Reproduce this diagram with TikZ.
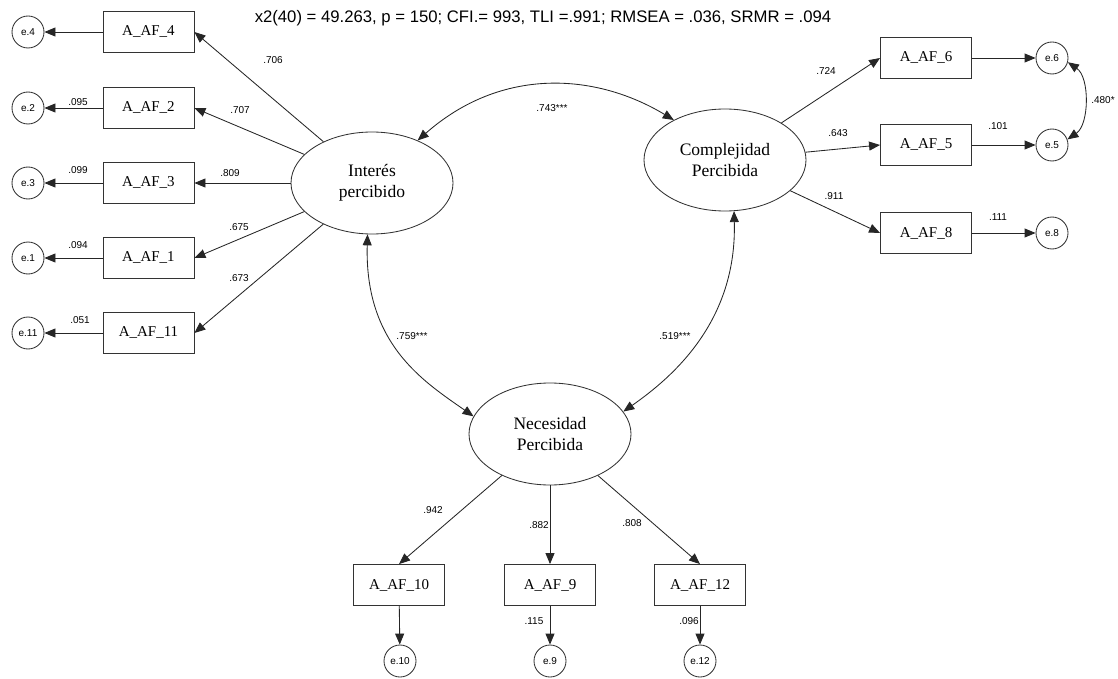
\documentclass[tikz,border=0pt]{standalone}
\usepackage{fontspec}
\setmainfont{Liberation Serif}
\newfontfamily\labfont{Liberation Sans}
\usetikzlibrary{shapes.geometric,arrows.meta}

\begin{document}
\begin{tikzpicture}[x=1pt,y=-1pt,
  tip/.tip={Triangle[length=11pt,width=9pt]},
  obs/.style={draw=black!80, line width=0.85pt, minimum width=91pt, minimum height=41pt,
    inner sep=0pt, font=\fontsize{15}{18}\selectfont},
  lat/.style={draw=black!80, line width=0.85pt, ellipse, inner sep=0pt, align=center,
    minimum width=162pt, minimum height=102pt, font=\fontsize{17.5}{21}\selectfont},
  err/.style={draw=black!80, line width=0.85pt, circle, minimum size=32pt, inner sep=0pt,
    font=\labfont\fontsize{10}{12}\selectfont},
  load/.style={-tip, line width=0.85pt, draw=black!85},
  covar/.style={tip-tip, line width=0.85pt, draw=black!85},
  num/.style={inner sep=0pt, font=\labfont\fontsize{10}{12}\selectfont}
]
\useasboundingbox (0,0) rectangle (1118,679);

% fit statistics
\node[inner sep=0pt, font=\labfont\fontsize{16.7}{19}\selectfont] (fit) at (543,18)
  {x2(40) = 49.263, p = 150; CFI.= 993, TLI =.991; RMSEA = .036, SRMR = .094};

% latent factors
\node[lat] (I) at (372,183) {Interés\\percibido};
\node[lat] (C) at (725,160) {Complejidad\\Percibida};
\node[lat] (N) at (550,434) {Necesidad\\Percibida};

% indicators of Interés percibido
\node[obs] (b4)  at (148.5,32)  {A\_AF\_4};
\node[obs] (b2)  at (148.5,108) {A\_AF\_2};
\node[obs] (b3)  at (148.5,183) {A\_AF\_3};
\node[obs] (b1)  at (148.5,258) {A\_AF\_1};
\node[obs] (b11) at (148.5,333) {A\_AF\_11};
\node[err] (e4)  at (28,32)  {e.4};
\node[err] (e2)  at (28,108) {e.2};
\node[err] (e3)  at (28,183) {e.3};
\node[err] (e1)  at (28,258) {e.1};
\node[err] (e11) at (28,333) {e.11};

% indicators of Complejidad Percibida
\node[obs] (b6) at (926,58)  {A\_AF\_6};
\node[obs] (b5) at (926,145) {A\_AF\_5};
\node[obs] (b8) at (926,233) {A\_AF\_8};
\node[err] (e6) at (1052,58)  {e.6};
\node[err] (e5) at (1052,145) {e.5};
\node[err] (e8) at (1052,233) {e.8};

% indicators of Necesidad Percibida
\node[obs] (b10) at (399,585) {A\_AF\_10};
\node[obs] (b9)  at (550,585) {A\_AF\_9};
\node[obs] (b12) at (700,585) {A\_AF\_12};
\node[err] (e10) at (400,661) {e.10};
\node[err] (e9)  at (550,661) {e.9};
\node[err] (e12) at (700,661) {e.12};

% loadings
\draw[load] (I) -- (b4.east);
\draw[load] (I) -- (b2.east);
\draw[load] (I) -- (b3.east);
\draw[load] (I) -- (b1.east);
\draw[load] (I) -- (b11.east);
\draw[load] (C) -- (b6.west);
\draw[load] (C) -- (b5.west);
\draw[load] (C) -- (b8.west);
\draw[load] (N) -- (b10.north);
\draw[load] (N) -- (b9.north);
\draw[load] (N) -- (b12.north);

% residual paths
\draw[load] (b4) -- (e4);
\draw[load] (b2) -- (e2);
\draw[load] (b3) -- (e3);
\draw[load] (b1) -- (e1);
\draw[load] (b11) -- (e11);
\draw[load] (b6) -- (e6);
\draw[load] (b5) -- (e5);
\draw[load] (b8) -- (e8);
\draw[load] (b10) -- (e10);
\draw[load] (b9) -- (e9);
\draw[load] (b12) -- (e12);

% covariances
\draw[covar] (I.43) .. controls +(84,-74) and +(-78,-47) .. (C.142);
\draw[covar] (I.-95) .. controls +(-3,110) and +(-50,-35) .. (N.167);
\draw[covar] (C.-80) .. controls +(3,110) and +(50,-35) .. (N.17);
\draw[covar] (e6.-15) .. controls +(22,15) and +(22,-15) .. (e5.20);

% coefficient labels
\node[num] (l706) at (273,60)  {.706};
\node[num] (l707) at (240,110) {.707};
\node[num] (l809) at (230,173) {.809};
\node[num] (l675) at (239,227) {.675};
\node[num] (l673) at (239,278) {.673};
\node[num] (l095) at (78,102)  {.095};
\node[num] (l099) at (78,170)  {.099};
\node[num] (l094) at (78,245)  {.094};
\node[num] (l051) at (80,320)  {.051};

\node[num] (l724) at (826,71)  {.724};
\node[num] (l643) at (838,133) {.643};
\node[num] (l911) at (834,196) {.911};
\node[num] (l101) at (998,126) {.101};
\node[num] (l111) at (998,217) {.111};
\node[num] (l480) at (1103,100) {.480*};

\node[num] (l942) at (433,510) {.942};
\node[num] (l882) at (539,525) {.882};
\node[num] (l808) at (632,523) {.808};
\node[num] (l115) at (534,621) {.115};
\node[num] (l096) at (689,621) {.096};

\node[num] (l743) at (552,108) {.743***};
\node[num] (l759) at (412,336) {.759***};
\node[num] (l519) at (675,336) {.519***};
\end{tikzpicture}
\end{document}
